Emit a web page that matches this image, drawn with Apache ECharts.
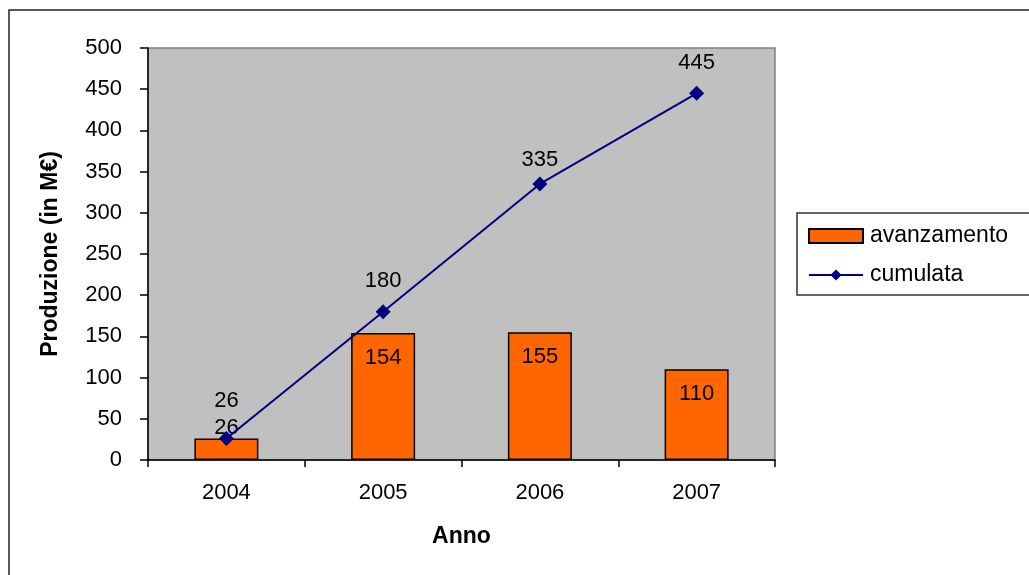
<!DOCTYPE html>
<html>
<head>
<meta charset="utf-8">
<title>Produzione</title>
<script src="https://cdn.jsdelivr.net/npm/echarts@6/dist/echarts.min.js"></script>
<style>
  html, body { margin: 0; padding: 0; background: #ffffff; }
  #chart { width: 1029px; height: 575px; }
</style>
</head>
<body>
<div id="chart"></div>
<script>
// Years on the category axis
const anni = ['2004', '2005', '2006', '2007'];
// Yearly progress (bars) and running total (line), in M€
const avanzamento = [26, 154, 155, 110];
const cumulata = [26, 180, 335, 445];

const FONT = 'Liberation Sans, Arial, sans-serif';
const NUM_SIZE = 22;
const TEXT_SIZE = 23;
const chart = echarts.init(document.getElementById('chart'), null, { renderer: 'canvas' });

// The first bar is too short for an inside label, so its value sits just above it
const barData = avanzamento.map((v, i) => i === 0
  ? { value: v, label: { position: 'top', distance: 0 } }
  : v);
// Gap between each point of the running total and its value label
const lineLabelGap = [19, 12, 6, 12];
const lineData = cumulata.map((v, i) => ({ value: v, label: { distance: lineLabelGap[i] } }));

chart.setOption({
  animation: false,
  textStyle: { fontFamily: FONT },
  graphic: [{
    type: 'rect',
    shape: { x: 9, y: 10, width: 1200, height: 800 },
    style: { fill: 'none', stroke: '#222222', lineWidth: 1.5 },
    silent: true,
    z: -10
  }],
  grid: {
    left: 148, right: 254, top: 48, bottom: 115,
    show: true,
    backgroundColor: '#C0C0C0',
    borderColor: '#808080',
    borderWidth: 1.5
  },
  legend: {
    orient: 'vertical',
    left: 797, top: 213,
    padding: [11, 60, 8, 11],
    itemWidth: 54, itemHeight: 14, itemGap: 15,
    borderColor: '#333333', borderWidth: 1.5,
    backgroundColor: '#ffffff',
    textStyle: { fontFamily: FONT, fontSize: TEXT_SIZE, lineHeight: 24, color: '#000', padding: [0, 0, 0, 2] },
    data: [{ name: 'avanzamento', icon: 'rect' }, { name: 'cumulata' }]
  },
  xAxis: {
    type: 'category',
    data: anni,
    boundaryGap: true,
    name: 'Anno',
    nameLocation: 'middle',
    nameGap: 65,
    nameTextStyle: { fontFamily: FONT, fontSize: TEXT_SIZE, fontWeight: 'bold', color: '#000' },
    axisLine: { lineStyle: { color: '#000', width: 1.5 } },
    axisTick: { show: true, length: 7, lineStyle: { color: '#000', width: 1.5 } },
    axisLabel: { margin: 22, fontFamily: FONT, fontSize: NUM_SIZE, color: '#000' },
    splitLine: { show: false }
  },
  yAxis: {
    type: 'value',
    min: 0, max: 500, interval: 50,
    name: 'Produzione (in M€)',
    nameLocation: 'middle',
    nameRotate: 90,
    nameGap: 86,
    nameTextStyle: { fontFamily: FONT, fontSize: TEXT_SIZE, fontWeight: 'bold', color: '#000' },
    axisLine: { show: true, lineStyle: { color: '#000', width: 1.5 } },
    axisTick: { show: true, length: 8, lineStyle: { color: '#000', width: 1.5 } },
    axisLabel: { margin: 26, fontFamily: FONT, fontSize: NUM_SIZE, color: '#000' },
    splitLine: { show: false }
  },
  series: [
    {
      name: 'avanzamento',
      type: 'bar',
      data: barData,
      barWidth: 64,
      itemStyle: { color: '#FF6600', borderColor: '#000', borderWidth: 1.5 },
      label: {
        show: true, position: 'insideTop', distance: 14,
        fontFamily: FONT, fontSize: NUM_SIZE, color: '#000'
      },
      z: 2
    },
    {
      name: 'cumulata',
      type: 'line',
      data: lineData,
      symbol: 'diamond',
      symbolSize: 15,
      lineStyle: { color: '#000080', width: 2 },
      itemStyle: { color: '#000080' },
      label: {
        show: true, position: 'top', distance: 12,
        fontFamily: FONT, fontSize: NUM_SIZE, color: '#000'
      },
      z: 3
    }
  ]
});
</script>
</body>
</html>
